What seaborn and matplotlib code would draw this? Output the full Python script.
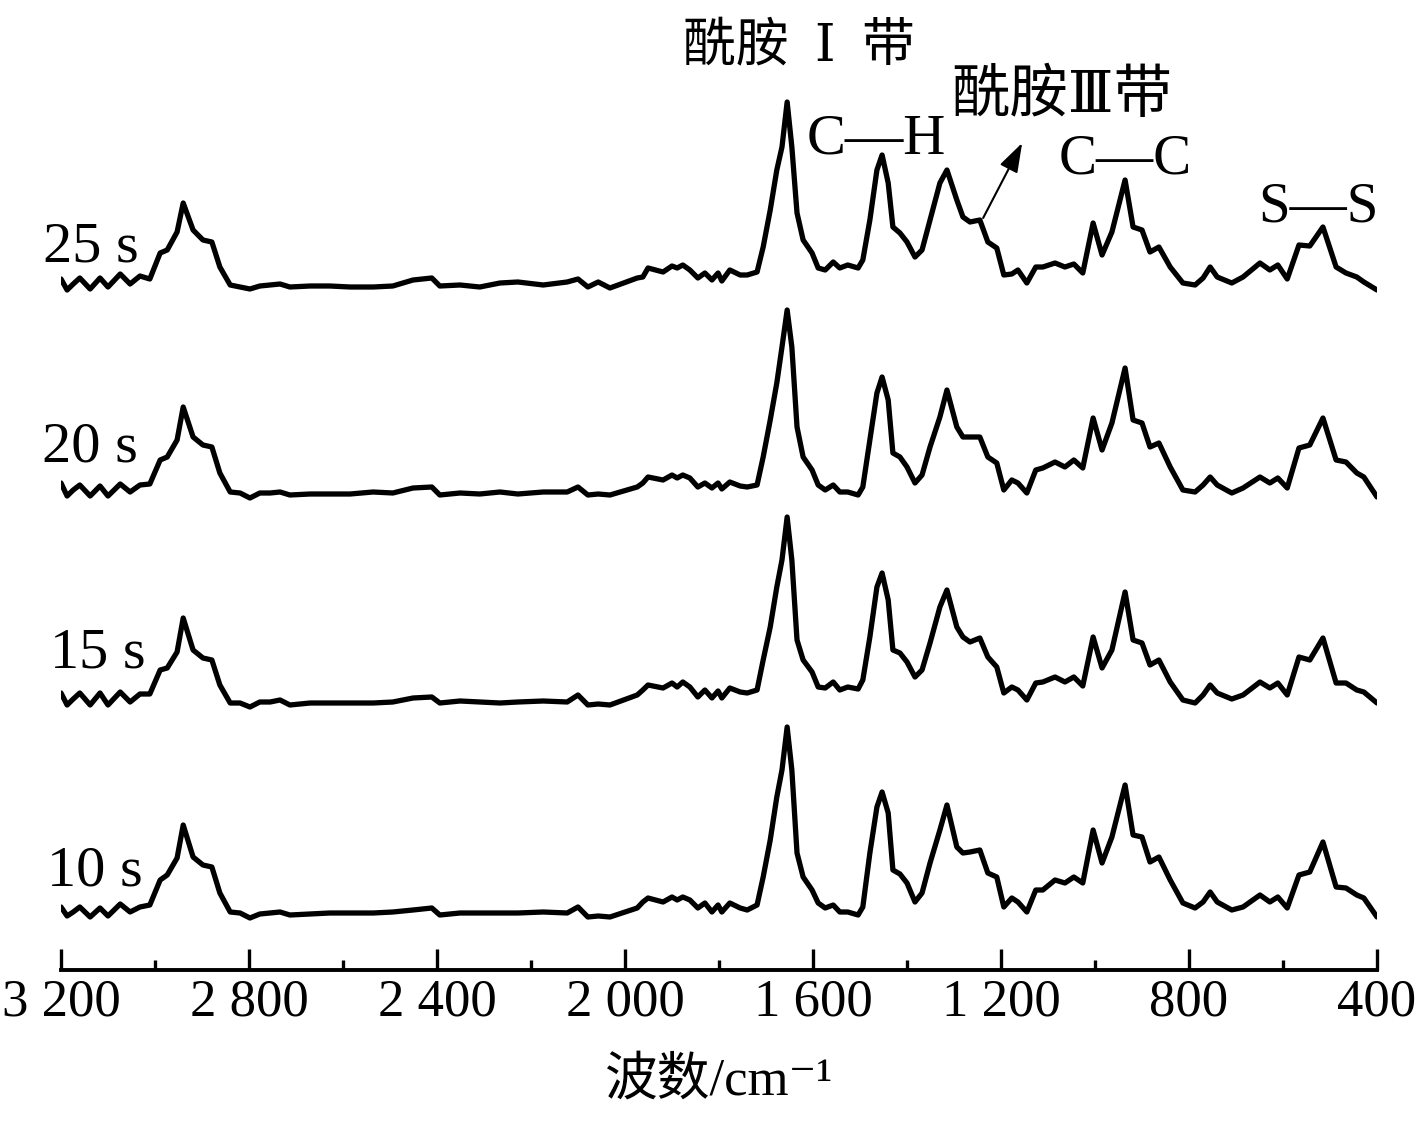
import matplotlib
matplotlib.use("Agg")
import numpy as np
import pandas as pd
import matplotlib.pyplot as plt
import seaborn as sns

# ==============================
# DATA
# ==============================
wavenumber = [
    3200, 3187, 3174, 3160, 3138, 3117, 3100, 3074, 3053, 3032,
    3011, 2989, 2974, 2953, 2940, 2919, 2898, 2879, 2862, 2840,
    2819, 2798, 2777, 2755, 2734, 2713, 2670, 2628, 2585, 2536,
    2494, 2451, 2411, 2394, 2351, 2309, 2266, 2228, 2174, 2123,
    2100, 2079, 2057, 2032, 1974, 1962, 1951, 1919, 1900, 1889,
    1877, 1862, 1845, 1830, 1815, 1802, 1794, 1777, 1755, 1740,
    1719, 1706, 1691, 1677, 1666, 1655, 1645, 1634, 1621, 1602,
    1589, 1574, 1557, 1543, 1526, 1504, 1494, 1479, 1464, 1453,
    1440, 1430, 1415, 1400, 1383, 1368, 1351, 1330, 1315, 1294,
    1281, 1266, 1245, 1228, 1209, 1194, 1177, 1164, 1145, 1126,
    1111, 1085, 1064, 1045, 1026, 1004, 985, 964, 936, 919,
    900, 883, 864, 840, 813, 787, 770, 755, 740, 709,
    685, 649, 628, 611, 591, 566, 543, 515, 487, 466,
    443, 428, 400,
]

int_25s = [
    9, -2, 4, 10, -1, 10, 1, 14, 4, 12, 9,
    35, 38, 56, 85, 58, 48, 46, 21, 3, 1,
    -1, 2, 3, 4, 1,
    2, 2, 1, 1, 2, 8, 10, 2, 3, 1,
    5, 6, 3, 6, 9, 1, 6, 0,
    10, 11, 20, 16, 22, 20, 23, 18, 10, 15, 8, 15, 7, 18, 13, 13, 16,
    41, 78, 118, 141, 186, 141, 75, 48, 35, 20, 18, 26, 20, 23, 20,
    28, 68, 118, 133, 105, 61, 55, 46, 31, 38, 68, 105, 118,
    88, 71, 66, 68, 46, 40, 13, 14, 18, 5, 21, 21, 25, 21, 24, 15,
    65, 33, 56, 108, 61, 58, 36, 41, 21, 5,
    3, 10, 21, 11, 5, 11, 25, 18, 23, 9, 43, 42, 61, 21, 15, 11, 6, -2,
]

int_20s = [
    12, -1, 5, 10, -1, 9, -1, 11, 3, 10, 11,
    35, 38, 55, 88, 58, 50, 48, 22, 3, 2,
    -3, 2, 2, 3, 0,
    1, 1, 1, 3, 2, 7, 8, 0, 2, 1,
    3, 1, 3, 3, 8, 0, 1, 0,
    8, 12, 18, 15, 20, 17, 20, 17, 8, 12, 7, 12, 6, 13, 9, 8, 10,
    38, 75, 112, 148, 185, 148, 68, 38, 25, 10, 5, 10, 3, 3, 0,
    8, 55, 102, 118, 95, 42, 38, 28, 12, 20, 48, 78, 105,
    68, 58, 58, 58, 38, 32, 5, 15, 12, 2, 25, 27, 33, 28, 35, 27,
    77, 45, 72, 127, 75, 72, 48, 52, 28, 5,
    3, 10, 18, 10, 2, 7, 18, 12, 17, 7, 47, 50, 77, 35, 33, 22, 18, -2,
]

int_15s = [
    12, 0, 6, 12, 0, 12, 0, 13, 3, 11, 11,
    35, 37, 53, 87, 55, 47, 45, 20, 2, 2,
    -2, 3, 3, 5, 0,
    2, 2, 2, 2, 3, 7, 8, 2, 4, 3,
    2, 3, 4, 3, 10, 0, 1, 0,
    10, 15, 20, 17, 22, 18, 23, 18, 8, 15, 7, 14, 7, 17, 13, 12, 15,
    45, 78, 118, 145, 188, 145, 65, 45, 33, 18, 17, 23, 15, 18, 16,
    25, 68, 118, 132, 105, 55, 52, 43, 28, 35, 62, 98, 115,
    78, 68, 63, 67, 48, 38, 12, 18, 15, 5, 22, 23, 28, 23, 28, 19,
    68, 37, 55, 113, 65, 62, 40, 45, 23, 5,
    2, 10, 20, 12, 6, 10, 23, 17, 22, 10, 48, 45, 67, 22, 22, 15, 13, 2,
]

int_10s = [
    8, -1, 3, 8, -2, 7, -1, 11, 3, 8, 10,
    35, 40, 57, 90, 58, 50, 48, 22, 3, 2,
    -3, 1, 2, 3, 0,
    1, 2, 2, 2, 3, 5, 7, 0, 2, 2,
    2, 2, 3, 2, 8, -2, -1, -2,
    7, 13, 17, 13, 18, 15, 18, 15, 7, 12, 3, 10, 3, 12, 7, 5, 10,
    38, 75, 118, 145, 188, 145, 62, 38, 25, 12, 7, 10, 3, 3, 0,
    8, 62, 108, 123, 102, 45, 41, 32, 13, 22, 52, 85, 110,
    68, 62, 63, 65, 42, 38, 8, 17, 13, 3, 25, 25, 35, 32, 38, 32,
    85, 52, 78, 130, 80, 78, 53, 58, 35, 12,
    7, 13, 23, 13, 5, 8, 20, 13, 18, 7, 40, 43, 73, 28, 27, 20, 17, -2,
]

time_labels = ["25 s", "20 s", "15 s", "10 s"]
spectra = [int_25s, int_20s, int_15s, int_10s]

major_ticks = [3200, 2800, 2400, 2000, 1600, 1200, 800, 400]
major_tick_labels = ["3 200", "2 800", "2 400", "2 000", "1 600", "1 200", "800", "400"]
minor_ticks = [3000, 2600, 2200, 1800, 1400, 1000, 600]

band_labels = ["酰胺\u2002Ⅰ\u2002带", "C—H", "酰胺Ⅲ带", "C—C", "S—S"]
x_label = "波数/cm⁻¹"

for s in spectra:
    assert len(s) == len(wavenumber)

# ==============================
# STYLE
# ==============================
sns.set_style("white")
plt.rcParams["font.family"] = ["Liberation Serif", "Noto Sans CJK SC", "DejaVu Serif"]
plt.rcParams["axes.unicode_minus"] = False
plt.rcParams["text.color"] = "black"
plt.rcParams["axes.labelcolor"] = "black"
plt.rcParams["xtick.color"] = "black"

# vertical stacking of the spectra (layout only)
offsets = [837, 630, 420, 210]

df = pd.concat(
    [pd.DataFrame({"wn": wavenumber, "y": np.array(s) + off, "time": lab})
     for s, off, lab in zip(spectra, offsets, time_labels)],
    ignore_index=True,
)

# ==============================
# PLOT
# ==============================
W, H = 1417, 1125
fig = plt.figure(figsize=(W / 100, H / 100), dpi=100)
ax = fig.add_axes([61 / W, 155 / H, 1316 / W, 970 / H])

for lab in time_labels:
    sns.lineplot(data=df[df["time"] == lab], x="wn", y="y", sort=False,
                 estimator=None, color="black", lw=3.8, ax=ax,
                 solid_joinstyle="round", solid_capstyle="round")

ax.set_xlim(3200, 400)
ax.set_ylim(155, 1125)

for side in ["left", "right", "top"]:
    ax.spines[side].set_visible(False)
ax.spines["bottom"].set_linewidth(2.8)
ax.spines["bottom"].set_color("black")

ax.set_xticks(major_ticks)
ax.set_xticklabels(major_tick_labels)
ax.set_xticks(minor_ticks, minor=True)
ax.set_yticks([])
ax.tick_params(axis="x", which="both", bottom=True, direction="in",
               width=2.4, colors="black")
ax.tick_params(axis="x", which="major", length=15, labelsize=38, pad=6)
ax.tick_params(axis="x", which="minor", length=7.5)
ax.set_xlabel(x_label, fontsize=38, labelpad=22)
ax.set_ylabel("")

# time labels at the left of each spectrum
label_pos = [(3238, 878), (3240, 677), (3223, 472), (3230, 254)]
for lab, (x, y) in zip(time_labels, label_pos):
    ax.text(x, y, lab, fontsize=42, ha="left", va="center", clip_on=False)

# band annotations
band_pos = [(1630, 1078), (1466, 985), (1070, 1028), (936, 965), (525, 918)]
band_size = [38, 42, 42, 41, 41]
roman_family = ["Liberation Serif", "DejaVu Serif", "Noto Sans CJK SC"]
for txt, (x, y), fs in zip(band_labels, band_pos, band_size):
    ax.text(x, y, txt, fontsize=fs, ha="center", va="center", family=roman_family)

ax.annotate("", xy=(1155, 982), xytext=(1238, 907),
            arrowprops=dict(arrowstyle="-|>,head_length=0.9,head_width=0.3",
                            lw=1.5, color="black", shrinkA=0, shrinkB=0,
                            mutation_scale=20))

fig.savefig("out.png", dpi=100)
